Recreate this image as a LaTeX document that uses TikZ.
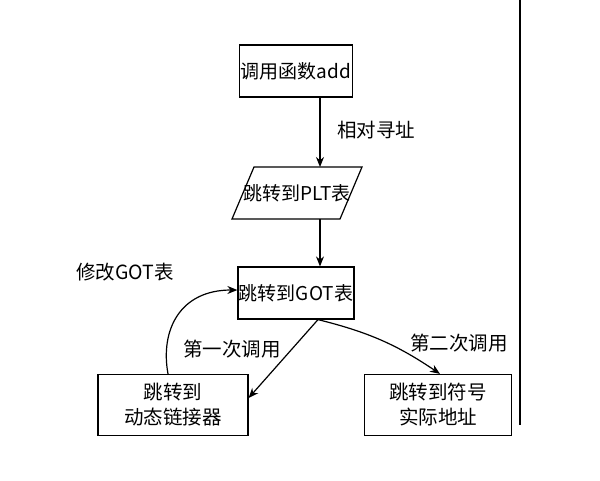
\documentclass[tikz,border=0pt]{standalone}
\usepackage{fontspec}
\setmainfont{Noto Sans CJK SC}
\usetikzlibrary{shapes.geometric,arrows.meta}
\begin{document}
\begin{tikzpicture}[x=1pt,y=-1pt,
  box/.style={draw,line width=1.2pt,minimum width=98pt,minimum height=52pt,font=\fontsize{19}{23}\selectfont,align=center,inner sep=1pt},
  lbl/.style={font=\fontsize{19.5}{24}\selectfont},
  arr/.style={-{Stealth[length=10pt,width=8pt]},line width=1.2pt}]
\useasboundingbox (0,0) rectangle (600,480);
\node[box] (add) at (296,71) {调用函数add};
\node[box,draw=none,minimum width=108pt] (plt) at (297,193) {跳转到PLT表};
\draw[line width=1.2pt] (254,167) -- (362,167) -- (340,219) -- (232,219) -- cycle;
\node[box] (got) at (296,293) {跳转到GOT表};
\node[box,minimum width=150pt,minimum height=61pt,font=\fontsize{19.5}{25}\selectfont] (dyn) at (173,405) {跳转到\\动态链接器};
\node[box,minimum width=147pt,minimum height=61pt,font=\fontsize{19.5}{25}\selectfont] (real) at (438,405) {跳转到符号\\实际地址};
\coordinate (top) at (520,0);
\coordinate (bot) at (520,425);
\draw[line width=1.2pt] (top) -- (bot);
\draw[arr] (add.south -| 320,0) -- (320,167);
\draw[arr] (320,219) -- (got.north -| 320,0);
\draw[arr] (got.south -| 318,0) -- (dyn.east |- 0,398);
\draw[arr] (got.south -| 318,0) to[bend left=10] (real.north -| 440,0);
\draw[arr] (dyn.north -| 168,0) .. controls (160,330) and (180,290) .. (got.west |- 0,290);
\node[lbl] (l1) at (376,130) {相对寻址};
\node[lbl] (l2) at (125,272) {修改GOT表};
\node[lbl] (l3) at (232,349) {第一次调用};
\node[lbl] (l4) at (459,343) {第二次调用};
\end{tikzpicture}
\end{document}
